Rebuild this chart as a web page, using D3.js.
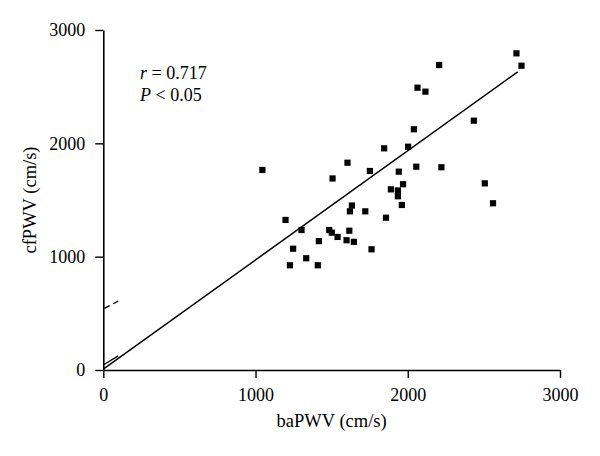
<!DOCTYPE html>
<html>
<head>
<meta charset="utf-8">
<script src="https://cdn.jsdelivr.net/npm/d3@7/dist/d3.min.js"></script>
<style>
  html, body { margin: 0; padding: 0; background: #fff; }
  text { font-family: "Liberation Serif", "Times New Roman", serif; fill: #000; }
</style>
</head>
<body>
<svg id="chart" width="600" height="456"></svg>
<script>
const baPWV = [2714, 2747, 2206, 2064, 2116, 2434, 2040, 2002, 1845, 1045,
  1604, 1751, 1941, 2056, 2221, 2506, 2560, 1506, 1969, 1889,
  1935, 1935, 1961, 1633, 1620, 1721, 1857, 1197, 1302, 1484,
  1501, 1539, 1616, 1598, 1646, 1762, 1416, 1247, 1333, 1226, 1409];
const cfPWV = [2794, 2685, 2691, 2491, 2456, 2200, 2124, 1970, 1956, 1765,
  1829, 1756, 1750, 1794, 1789, 1647, 1471, 1690, 1639, 1594,
  1584, 1533, 1456, 1451, 1400, 1400, 1344, 1324, 1235, 1235,
  1212, 1174, 1229, 1145, 1131, 1065, 1137, 1070, 986, 924, 924];

const xTicks = [0, 1000, 2000, 3000];
const yTicks = [0, 1000, 2000, 3000];
const xTitle = "baPWV (cm/s)";
const yTitle = "cfPWV (cm/s)";

// regression line and small marks near origin (data units)
const fitX = [0, 2722];
const fitY = [8, 2630];
const shortSolidX = [0, 98];
const shortSolidY = [44, 125];
const shortDashX = [7, 98];
const shortDashY = [544, 608];

const statR = "0.717";
const statP = "0.05";

const svg = d3.select("#chart");
const x = d3.scaleLinear().domain([0, 3000]).range([103.3, 560]);
const y = d3.scaleLinear().domain([0, 3000]).range([370, 30]);

// axes
const xAxis = d3.axisBottom(x).tickValues(xTicks).tickSize(8).tickSizeOuter(0).tickPadding(10).tickFormat(d3.format("d"));
const yAxis = d3.axisLeft(y).tickValues(yTicks).tickSize(8).tickSizeOuter(0).tickPadding(10).tickFormat(d3.format("d"));

const gx = svg.append("g").attr("transform", `translate(0,${y(0)})`).call(xAxis);
const gy = svg.append("g").attr("transform", `translate(${x(0)},0)`).call(yAxis);
[gx, gy].forEach(g => {
  g.selectAll("path.domain").attr("stroke", "#000").attr("stroke-width", 1.6);
  g.selectAll(".tick line").attr("stroke", "#000").attr("stroke-width", 1.4);
  g.selectAll(".tick text").attr("font-family", "'Liberation Serif', serif").attr("font-size", 18).attr("fill", "#000");
});

// lines
const line = d3.line().x(d => x(d[0])).y(d => y(d[1]));
svg.append("path").datum(d3.zip(fitX, fitY)).attr("d", line)
  .attr("fill", "none").attr("stroke", "#000").attr("stroke-width", 1.5);
svg.append("path").datum(d3.zip(shortSolidX, shortSolidY)).attr("d", line)
  .attr("fill", "none").attr("stroke", "#000").attr("stroke-width", 1.3);
svg.append("path").datum(d3.zip(shortDashX, shortDashY)).attr("d", line)
  .attr("fill", "none").attr("stroke", "#000").attr("stroke-width", 1.3)
  .attr("stroke-dasharray", "6,4");

// points
const pts = d3.zip(baPWV, cfPWV);
const s = 6.2;
svg.append("g").selectAll("rect").data(pts).join("rect")
  .attr("x", d => x(d[0]) - s / 2)
  .attr("y", d => y(d[1]) - s / 2)
  .attr("width", s).attr("height", s)
  .attr("fill", "#000");

// titles
svg.append("text").attr("x", (x(0) + x(3000)) / 2).attr("y", 427)
  .attr("text-anchor", "middle").attr("font-size", 18.5).text(xTitle);
svg.append("text").attr("transform", `translate(36,${(y(0) + y(3000)) / 2}) rotate(-90)`)
  .attr("text-anchor", "middle").attr("font-size", 18.5).text(yTitle);

// stats annotation
const t1 = svg.append("text").attr("x", 140).attr("y", 79).attr("font-size", 18);
t1.append("tspan").attr("font-style", "italic").text("r");
t1.append("tspan").text(" = " + statR);
const t2 = svg.append("text").attr("x", 140).attr("y", 101).attr("font-size", 18);
t2.append("tspan").attr("font-style", "italic").text("P");
t2.append("tspan").text(" < " + statP);
</script>
</body>
</html>
